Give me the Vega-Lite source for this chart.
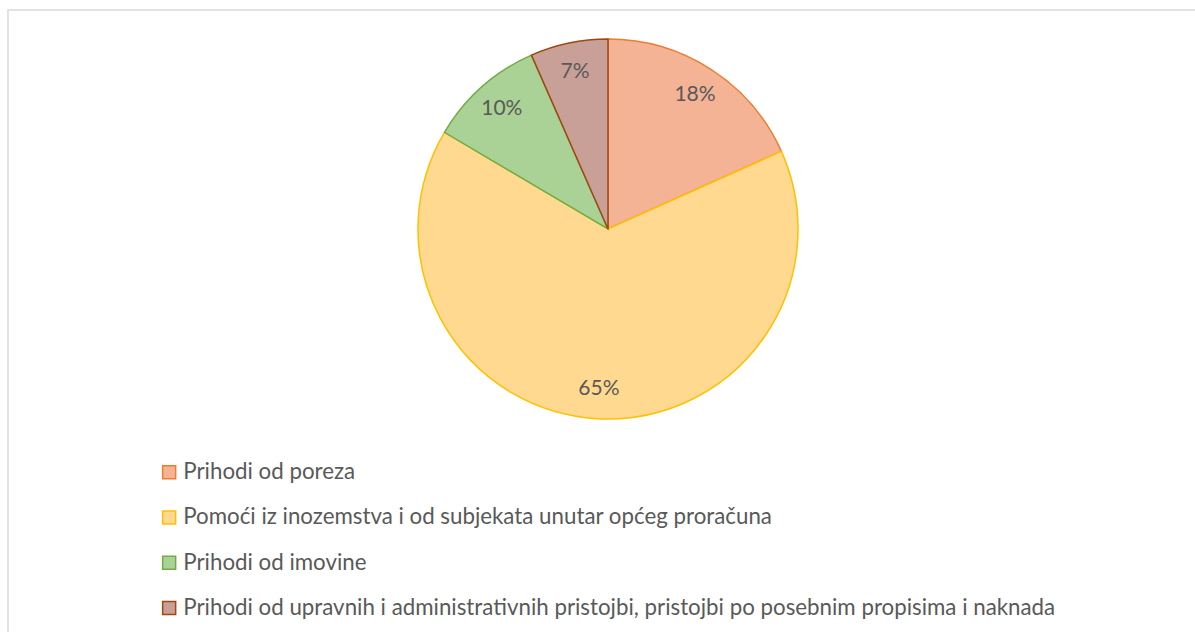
{
  "$schema": "https://vega.github.io/schema/vega-lite/v6.json",
  "width": 1190,
  "height": 625,
  "padding": {"left": 8, "top": 10, "right": -3, "bottom": -3},
  "autosize": "none",
  "background": "white",
  "view": {"stroke": "#d9d9d9", "strokeWidth": 1.5, "fill": "white"},
  "config": {
    "font": "Lato"
  },
  "data": {
    "values": [
      {"kategorija": "Prihodi od poreza", "udio": 0.183, "red": 1},
      {"kategorija": "Pomoći iz inozemstva i od subjekata unutar općeg proračuna", "udio": 0.652, "red": 2},
      {"kategorija": "Prihodi od imovine", "udio": 0.099, "red": 3},
      {"kategorija": "Prihodi od upravnih i administrativnih pristojbi, pristojbi po posebnim propisima i naknada", "udio": 0.066, "red": 4}
    ]
  },
  "encoding": {
    "theta": {"field": "udio", "type": "quantitative", "stack": true},
    "order": {"field": "red", "type": "quantitative"}
  },
  "layer": [
    {
      "mark": {"type": "arc", "outerRadius": 190, "x": 600, "y": 219, "strokeWidth": 1.5},
      "encoding": {
        "color": {
          "field": "kategorija",
          "type": "nominal",
          "scale": {
            "domain": [
              "Prihodi od poreza",
              "Pomoći iz inozemstva i od subjekata unutar općeg proračuna",
              "Prihodi od imovine",
              "Prihodi od upravnih i administrativnih pristojbi, pristojbi po posebnim propisima i naknada"
            ],
            "range": ["#F5B396", "#FFD98F", "#AAD196", "#C9A097"]
          },
          "legend": {
            "title": null,
            "orient": "none",
            "legendX": 150,
            "legendY": 451,
            "direction": "vertical",
            "padding": 0,
            "symbolType": "square",
            "symbolSize": 169,
            "symbolStrokeWidth": 1.5,
            "labelFont": "Lato",
            "labelFontSize": 22.3,
            "labelColor": "#595959",
            "labelOffset": 3,
            "labelLimit": 1100,
            "rowPadding": 22.3
          }
        },
        "stroke": {
          "field": "kategorija",
          "type": "nominal",
          "scale": {
            "domain": [
              "Prihodi od poreza",
              "Pomoći iz inozemstva i od subjekata unutar općeg proračuna",
              "Prihodi od imovine",
              "Prihodi od upravnih i administrativnih pristojbi, pristojbi po posebnim propisima i naknada"
            ],
            "range": ["#ED7D31", "#FFC000", "#70AD47", "#9E480E"]
          },
          "legend": null
        }
      }
    },
    {
      "mark": {"type": "text", "radius": 160, "x": 600, "y": 219, "fontSize": 21, "font": "Lato", "color": "#595959", "baseline": "middle", "align": "center"},
      "encoding": {
        "text": {"field": "udio", "type": "quantitative", "format": ".0%"}
      }
    }
  ]
}
